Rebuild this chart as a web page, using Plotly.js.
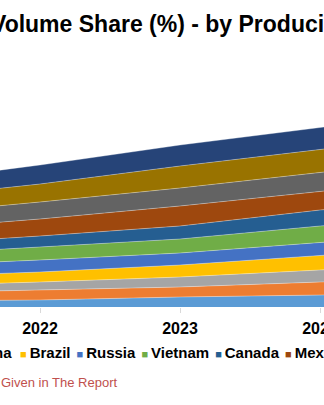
<!DOCTYPE html>
<html>
<head>
<meta charset="utf-8">
<script src="https://cdn.plot.ly/plotly-3.0.1.min.js"></script>
<style>
html,body{margin:0;padding:0;background:#fff;overflow:hidden;}
#chart{width:324px;height:405px;}
</style>
</head>
<body>
<div id="chart"></div>
<script>
// Data (stack order: bottom to top)
const years = [2021, 2022, 2023, 2024, 2025];
const tickYears = [2022, 2023, 2024];
const tickLabels = ["2022", "2023", "2024"];
const seriesNames = ["US", "India", "China", "Brazil", "Russia", "Vietnam", "Canada", "Mexico", "Indonesia", "Thailand", "Others"];
const seriesColors = ["#5B9BD5", "#ED7D31", "#A5A5A5", "#FFC000", "#4472C4", "#70AD47", "#255E91", "#9E480E", "#636363", "#997300", "#264478"];
const s1  = [6, 7, 10, 12, 14];
const s2  = [8, 10, 10, 13, 15];
const s3  = [7, 8, 10, 13, 15];
const s4  = [9, 10, 12, 15, 17];
const s5  = [11, 12, 12, 13, 14];
const s6  = [11, 13, 14, 15, 16];
const s7  = [10, 11, 13, 16, 18];
const s8  = [15, 17, 20, 20, 21];
const s9  = [15, 17, 18, 19, 20];
const s10 = [16, 18, 22, 23, 24];
const s11 = [16, 19, 21, 22, 23];
const seriesValues = [s1, s2, s3, s4, s5, s6, s7, s8, s9, s10, s11];
const titleText = "Volume Share (%) - by Producing Countries";
const noteText = "Given in The Report";

const W = 324, H = 405, T = 107, B = 98;
const plotH = H - T - B;
const px = x => x / W;
const py = y => (H - B - y) / plotH;

const traces = seriesValues.map((vals, i) => ({
  type: "scatter",
  mode: "lines",
  x: years,
  y: vals,
  name: seriesNames[i],
  stackgroup: "one",
  fillcolor: seriesColors[i],
  line: {color: "rgba(255,255,255,0.55)", width: 0.6},
  hoverinfo: "skip",
  showlegend: false
}));

function legendItem(i) {
  return '<span style="color:' + seriesColors[i] + ';font-size:11px">\u25A0</span>\u2009' + seriesNames[i];
}
const leftIdx = [0, 1, 2];
const rightIdx = [3, 4, 5, 6, 7, 8, 9, 10];
const sep = '\u2009\u2009';
const legendLeft = '<b>' + leftIdx.map(legendItem).join(sep) + '</b>';
const legendRight = '<b>' + rightIdx.map(legendItem).join(sep) + '</b>';

const baseFont = {family: "Liberation Sans, Arial, sans-serif", color: "#000"};

const layout = {
  width: W, height: H,
  margin: {l: 0, r: 0, t: T, b: B, pad: 0},
  paper_bgcolor: "#fff",
  plot_bgcolor: "#fff",
  showlegend: false,
  xaxis: {
    range: [2022 - 40/140, 2022 + 284/140],
    tickvals: tickYears,
    ticktext: tickLabels,
    ticks: "outside",
    ticklen: 5,
    tickcolor: "#d9d9d9",
    ticklabelstandoff: 2,
    showgrid: false,
    zeroline: false,
    showline: false,
    ticklabeloverflow: "allow",
    tickfont: {family: "Liberation Sans, Arial, sans-serif", size: 16, color: "#000", weight: "bold"},
    fixedrange: true
  },
  yaxis: {
    range: [0, plotH],
    visible: false,
    fixedrange: true
  },
  annotations: [
    {text: '<b>' + titleText + '</b>', xref: "paper", yref: "paper", x: px(-11), y: py(24),
     xanchor: "left", yanchor: "middle", showarrow: false, font: Object.assign({}, baseFont, {size: 23})},
    {text: legendLeft, xref: "paper", yref: "paper", x: px(14), y: py(352),
     xanchor: "right", yanchor: "middle", showarrow: false, font: Object.assign({}, baseFont, {size: 15})},
    {text: legendRight, xref: "paper", yref: "paper", x: px(18), y: py(352),
     xanchor: "left", yanchor: "middle", showarrow: false, font: Object.assign({}, baseFont, {size: 15})},
    {text: noteText, xref: "paper", yref: "paper", x: px(-1), y: py(382),
     xanchor: "left", yanchor: "middle", showarrow: false, font: {family: "Liberation Sans, Arial, sans-serif", size: 13, color: "#C0504D"}}
  ]
};

Plotly.newPlot("chart", traces, layout, {staticPlot: true, displayModeBar: false});
</script>
</body>
</html>
